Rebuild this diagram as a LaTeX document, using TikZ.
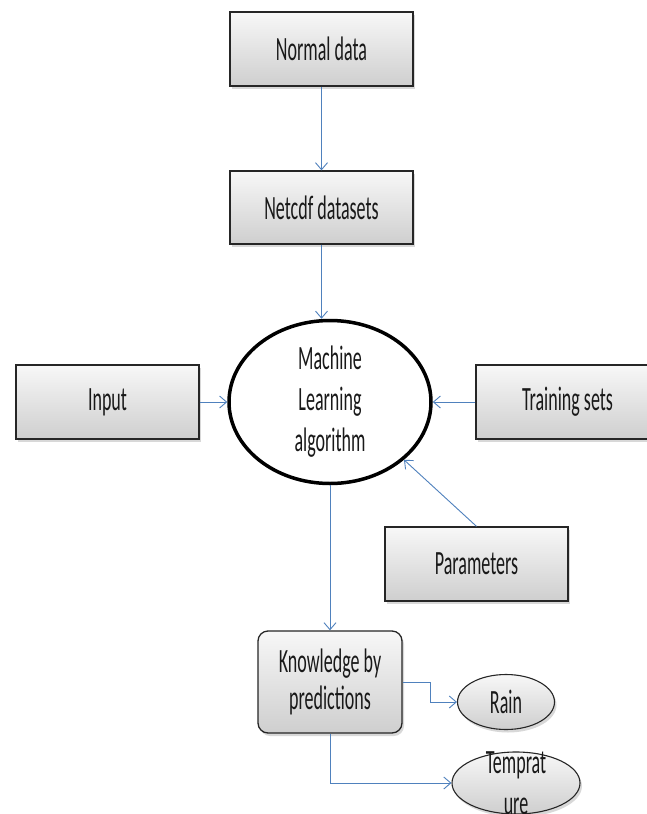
\documentclass[tikz,border=0pt]{standalone}
\usepackage{fontspec}
\setmainfont{Carlito}[FakeStretch=0.53]
\usetikzlibrary{arrows.meta,shadows,shapes.geometric}
\definecolor{arr}{HTML}{4F81BD}
\begin{document}
\begin{tikzpicture}[x=1pt,y=-1pt,
  lbl/.style={font=\fontsize{34}{41}\selectfont, text=black!90, align=center},
  box/.style={lbl, draw=black!85, line width=1.3pt, top color=gray!6, bottom color=gray!38,
    drop shadow={shadow xshift=2pt,shadow yshift=-3pt,opacity=0.3},
    minimum width=183pt, minimum height=74pt, inner sep=0pt},
  oval/.style={lbl, ellipse, draw=black!85, line width=1.1pt, top color=gray!6, bottom color=gray!38,
    drop shadow={shadow xshift=2pt,shadow yshift=-3pt,opacity=0.3}, inner sep=0pt},
  conn/.style={draw=arr, line width=0.9pt, -{Straight Barb[length=7pt,width=12pt]}},
]
\useasboundingbox (0,0) rectangle (647,814);
\fill[white] (0,0) rectangle (647,814);
\node[box] (norm) at (321.5,49) {Normal data};
\node[box, minimum height=73pt] (net) at (321.5,207.5) {Netcdf datasets};
\node[ellipse, draw=black, line width=3.5pt, fill=white, minimum width=202pt, minimum height=163pt] (ml) at (330,402) {};
\node[lbl] (mltext) at (ml.center) {Machine\\Learning\\algorithm};
\node[box] (inp) at (107.5,402) {Input};
\node[box] (train) at (567.5,402) {Training sets};
\node[box] (par) at (476.5,564) {Parameters};
\node[box, rounded corners=10pt, minimum width=144pt, minimum height=102pt, font=\fontsize{34}{37}\selectfont] (know) at (330,682) {Knowledge by\\predictions};
\node[oval, minimum width=97pt, minimum height=55pt] (rain) at (506,702) {Rain};
\node[oval, minimum width=128pt, minimum height=62pt] (temp) at (516,783) {};
\node[lbl] (temptext) at (temp.center) {Temprat\\ure};
\draw[conn] (norm.south) -- (net.north);
\draw[conn] (net.south) -- (net.south |- ml.north);
\draw[conn] (inp.east) -- (ml.west);
\draw[conn] (train.west) -- (ml.east);
\draw[conn] (par.north) -- (ml.-38);
\draw[conn] (ml.south) -- (know.north);
\draw[conn] (know.east) -- ++(28,0) |- (rain.west);
\draw[conn] (know.south) |- (temp.west);
\end{tikzpicture}
\end{document}
